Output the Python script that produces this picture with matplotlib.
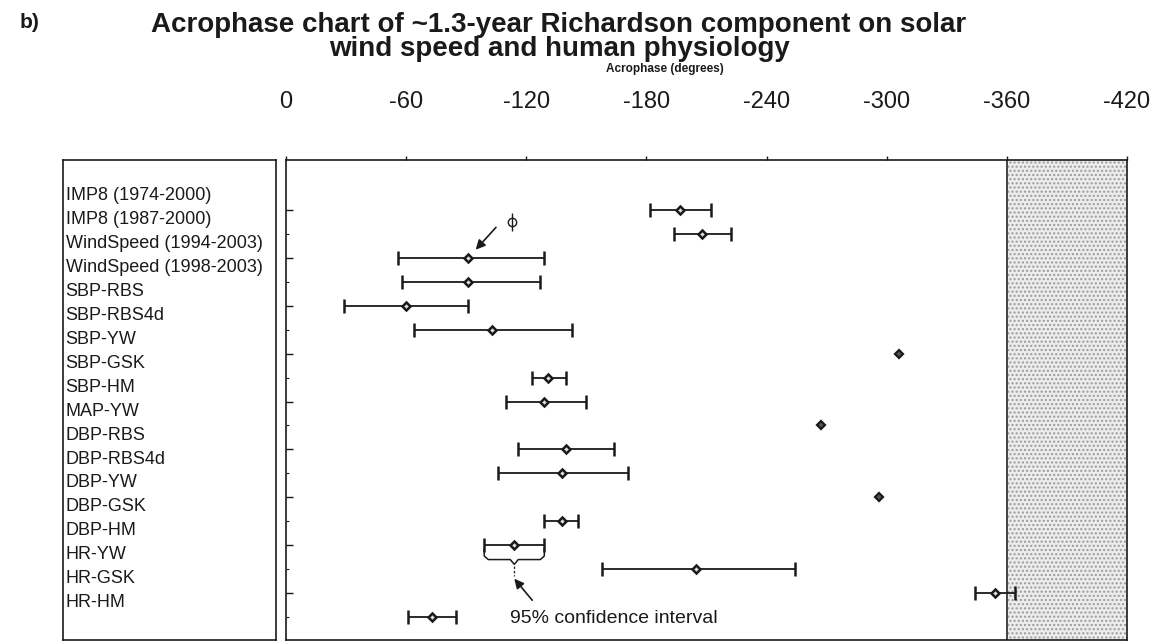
import numpy as np
import matplotlib.pyplot as plt

plt.rcParams['font.family'] = ['Liberation Sans', 'DejaVu Sans']

GROUPS = [
    "IMP8 (1974-2000)", "IMP8 (1987-2000)",
    "WindSpeed (1994-2003)", "WindSpeed (1998-2003)",
    "SBP-RBS", "SBP-RBS4d", "SBP-YW", "SBP-GSK", "SBP-HM",
    "MAP-YW",
    "DBP-RBS", "DBP-RBS4d", "DBP-YW", "DBP-GSK", "DBP-HM",
    "HR-YW", "HR-GSK", "HR-HM",
]
# acrophase and 95% CI limits in degrees (nan = no CI shown)
ACROPHASE = [-197, -208, -91, -91, -60, -103, -306, -131, -129, -267,
             -140, -138, -296, -138, -114, -205, -354, -73]
CI_LOW = [-182, -194, -56, -58, -29, -64, np.nan, -123, -110, np.nan,
          -116, -106, np.nan, -129, -99, -158, -344, -61]
CI_HIGH = [-212, -222, -129, -127, -91, -143, np.nan, -140, -150, np.nan,
           -164, -171, np.nan, -146, -129, -254, -364, -85]
PHI_MARK = -113          # open mark drawn between the two IMP8 rows
XTICKS = [0, -60, -120, -180, -240, -300, -360, -420]

W, H = 1158, 643


def box(x0, y0, x1, y1):
    return [x0 / W, 1 - y1 / H, (x1 - x0) / W, (y1 - y0) / H]


fig = plt.figure(figsize=(W / 100, H / 100), dpi=100)
ax_lab = fig.add_axes(box(63, 160, 276, 640))
ax = fig.add_axes(box(286, 160, 1127, 640))

n = len(GROUPS)
rows = np.arange(n)
ylim = (n - 0.04, -2.09)
ink = "#1a1a1a"

# group names in the separate left box
ax_lab.set_xlim(0, 1)
ax_lab.set_ylim(*ylim)
ax_lab.set_xticks([])
ax_lab.set_yticks([])
for i, name in enumerate(GROUPS):
    ax_lab.text(0.012, i - 0.6, name, va="center", ha="left", fontsize=13, color=ink)
for s in ax_lab.spines.values():
    s.set_color(ink)
    s.set_linewidth(1.2)

# region beyond -360 degrees
ax.axvspan(-360, -420, facecolor="#ececec", hatch="....", edgecolor="#9a9a9a",
           linewidth=0, zorder=0)
ax.axvline(-360, color="#444444", lw=1.4, zorder=1)

acro = np.array(ACROPHASE, dtype=float)
lo = np.array(CI_LOW, dtype=float)
hi = np.array(CI_HIGH, dtype=float)
has_ci = ~np.isnan(lo)

ax.errorbar(acro[has_ci], rows[has_ci],
            xerr=[acro[has_ci] - hi[has_ci], lo[has_ci] - acro[has_ci]],
            fmt="D", ms=4.5, mfc="#dddddd", mec=ink, mew=1.8, color=ink,
            elinewidth=1.3, capsize=5, capthick=1.2, zorder=3)
ax.plot(acro[~has_ci], rows[~has_ci], "D", ms=4.5, mfc="#555555", mec=ink,
        mew=1.6, zorder=3)

# small open "phi" mark
ax.plot([PHI_MARK], [0.5], "o", ms=6, mfc="white", mec=ink, mew=1.0, zorder=3)
ax.plot([PHI_MARK], [0.5], "|", ms=13, mec=ink, mew=1.0, zorder=3)

# arrow to the WindSpeed (1994-2003) estimate
ws = GROUPS.index("WindSpeed (1994-2003)")
ax.annotate("", xy=(acro[ws], rows[ws]), xytext=(20, 22), textcoords="offset points",
            arrowprops=dict(arrowstyle="-|>", color=ink, lw=1.2, mutation_scale=14,
                            shrinkA=0, shrinkB=8))

# brace under the DBP-HM interval, explaining the bars
k = GROUPS.index("DBP-HM")
a, b, r = lo[k], hi[k], rows[k]
mid = acro[k]
bx = [a, a, a - 2, mid + 2, mid, mid - 2, b + 2, b, b]
by = [r + 0.15, r + 0.45, r + 0.6, r + 0.6, r + 0.8, r + 0.6, r + 0.6, r + 0.45, r + 0.15]
ax.plot(bx, by, color=ink, lw=1.1, zorder=3)
ax.plot([mid, mid], [r + 0.85, r + 1.3], color=ink, lw=0.9, ls=(0, (2, 1.5)), zorder=3)
ax.annotate("", xy=(mid, r + 1.4), xytext=(mid - 9, r + 2.3),
            arrowprops=dict(arrowstyle="-|>", color=ink, lw=1.2, mutation_scale=14,
                            shrinkA=0, shrinkB=0))
ax.text(mid + 2, r + 3.05, "95% confidence interval", fontsize=14, color=ink,
        ha="left", va="center")

ax.set_xlim(0, -420)
ax.set_ylim(*ylim)
ax.xaxis.tick_top()
ax.set_xticks(XTICKS)
ax.set_xticklabels([str(t) for t in XTICKS])
ax.tick_params(axis="x", direction="out", length=3, labelsize=17, pad=31,
               colors=ink, width=1)
ax.set_yticks(rows[::2])
ax.set_yticks(rows, minor=True)
ax.tick_params(axis="y", which="major", direction="in", length=5, labelleft=False,
               width=1, colors=ink)
ax.tick_params(axis="y", which="minor", direction="in", length=2, width=0.8, colors=ink)
for s in ax.spines.values():
    s.set_color(ink)
    s.set_linewidth(1.2)

ax.text(0.45, 1.19, "Acrophase (degrees)", transform=ax.transAxes, ha="center",
        va="center", fontsize=8.5, fontweight="bold", color=ink)

fig.text(20 / W, 1 - 22 / H, "b)", fontsize=15, fontweight="bold", ha="left",
         va="center", color=ink)
fig.text(559 / W, 1 - 37 / H,
         "Acrophase chart of ~1.3-year Richardson component on solar\n"
         "wind speed and human physiology",
         fontsize=20, fontweight="bold", ha="center", va="center",
         multialignment="center", linespacing=0.92, color=ink)

fig.savefig("out.png", dpi=100)
